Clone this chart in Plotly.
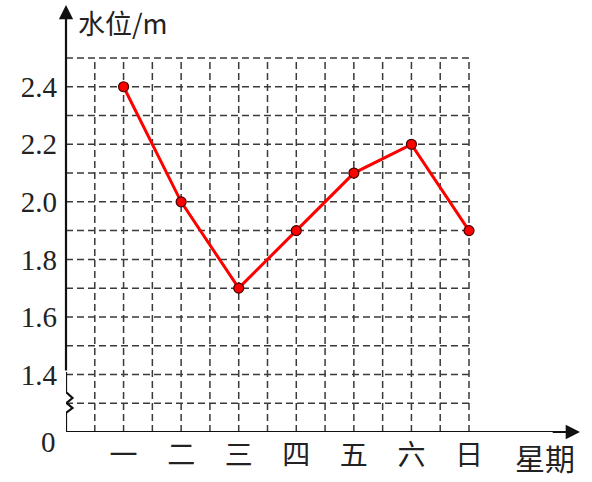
import plotly.graph_objects as go

# ---- data ----
days = ['一', '二', '三', '四', '五', '六', '日']
levels = [2.4, 2.0, 1.7, 1.9, 2.1, 2.2, 1.9]
y_tick_values = [1.4, 1.6, 1.8, 2.0, 2.2, 2.4]
y_tick_labels = ['1.4', '1.6', '1.8', '2.0', '2.2', '2.4']
y_origin_label = '0'
x_title = '星期'
y_title = '水位/m'

# ---- layout constants ----
W, H = 592, 482
ML, MR, MT, MB = 66, 12, 5, 50
GRID_COLS = 14           # vertical grid lines at 1..14 (half-day units)
Y_BASE = 1.2             # value placed on the x axis (broken axis)
Y_TOP_GRID = 2.5
px_per_x = (469 - 66) / GRID_COLS
px_per_y = (432 - 58) / (Y_TOP_GRID - Y_BASE)
XMAX = (W - ML - MR) / px_per_x
YMAX = Y_BASE + (H - MT - MB) / px_per_y

x_pos = [2 * (i + 1) for i in range(len(days))]

fig = go.Figure()

shapes = []
grid_style = dict(color='#3a3a3a', width=1.5, dash='7px,4px')
# vertical dashed grid lines
for gx in range(1, GRID_COLS + 1):
    shapes.append(dict(type='line', xref='x', yref='y', x0=gx, x1=gx,
                       y0=Y_BASE, y1=Y_TOP_GRID, line=grid_style, layer='below'))
# horizontal dashed grid lines
n_rows = round((Y_TOP_GRID - Y_BASE) / 0.1)
for k in range(1, n_rows + 1):
    gy = Y_BASE + 0.1 * k
    shapes.append(dict(type='line', xref='x', yref='y', x0=0, x1=GRID_COLS,
                       y0=gy, y1=gy, line=grid_style, layer='below'))

axis_line = dict(color='#111', width=2.2)
dx = 6.5 / px_per_x
def yv(py_off):
    return Y_BASE + py_off / px_per_y
# y-axis with break (zigzag)
brk_path = (f'M 0 {Y_BASE} L 0 {yv(19)} L {dx} {yv(24)} L {dx*0.1} {yv(29)} '
            f'L {dx} {yv(34)} L 0 {yv(40)} L 0 {yv(60)}')
shapes.append(dict(type='path', xref='x', yref='y', path=brk_path,
                   line=axis_line, layer='above'))
# x-axis base
shapes.append(dict(type='line', xref='x', yref='y', x0=0, x1=XMAX - 0.5,
                   y0=Y_BASE, y1=Y_BASE, line=axis_line, layer='above'))

fig.add_trace(go.Scatter(
    x=x_pos, y=levels, mode='lines+markers',
    line=dict(color='#ff0000', width=3),
    marker=dict(size=10, color='#ff0000', line=dict(color='#440000', width=1.2)),
    hoverinfo='skip', showlegend=False, cliponaxis=False))

annotations = [
    # y axis arrow
    dict(x=0, y=YMAX, ax=0, ay=yv(60), xref='x', yref='y', axref='x', ayref='y',
         text='', showarrow=True, arrowhead=2, arrowsize=1.3, arrowwidth=2.2,
         arrowcolor='#111'),
    # x axis arrow
    dict(x=XMAX, y=Y_BASE, ax=XMAX - 1, ay=Y_BASE, xref='x', yref='y',
         axref='x', ayref='y', text='', showarrow=True, arrowhead=2,
         arrowsize=1.3, arrowwidth=2.2, arrowcolor='#111'),
    dict(x=0, y=Y_BASE, xref='x', yref='y', text=y_origin_label, showarrow=False,
         xanchor='right', yanchor='middle', xshift=-8, yshift=-10,
         font=dict(family='Liberation Serif', size=29, color='#222')),
    dict(x=XMAX - 1.2, y=Y_BASE, xref='x', yref='y', text=x_title, showarrow=False,
         xanchor='center', yanchor='middle', yshift=-25,
         font=dict(family='Noto Sans CJK SC', size=30, color='#222')),
    dict(x=0, y=YMAX, xref='x', yref='y', text=y_title, showarrow=False,
         xanchor='left', yanchor='top', xshift=10, yshift=4,
         font=dict(family='Noto Sans CJK SC, Liberation Serif', size=27, color='#222')),
]

fig.update_layout(
    width=W, height=H,
    margin=dict(l=ML, r=MR, t=MT, b=MB, pad=0),
    paper_bgcolor='white', plot_bgcolor='white',
    shapes=shapes, annotations=annotations,
    xaxis=dict(range=[0, XMAX], showgrid=False, zeroline=False, showline=False,
               tickvals=x_pos, ticktext=days, ticks='', automargin=False,
               ticklabelstandoff=4,
               tickfont=dict(family='Noto Sans CJK SC', size=28, color='#222'),
               fixedrange=True),
    yaxis=dict(range=[Y_BASE, YMAX], showgrid=False, zeroline=False, showline=False,
               tickvals=y_tick_values, ticktext=y_tick_labels, ticks='',
               ticklabelstandoff=8, automargin=False,
               tickfont=dict(family='Liberation Serif', size=29, color='#222'),
               fixedrange=True),
)

fig.write_html('out.html', config={'displayModeBar': False})

# remove the browser's default page margin so the figure sits at (0, 0)
with open('out.html', encoding='utf-8') as f:
    html = f.read()
html = html.replace('<body>', '<body style="margin:0;overflow:hidden">', 1)
with open('out.html', 'w', encoding='utf-8') as f:
    f.write(html)
